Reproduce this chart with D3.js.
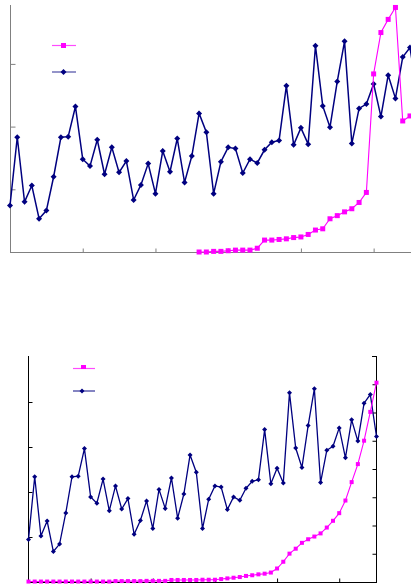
<!DOCTYPE html>
<html>
<head>
<meta charset="utf-8">
<script src="https://cdn.jsdelivr.net/npm/d3@7"></script>
<style>
  html, body { margin: 0; padding: 0; background: #fff; }
  svg { display: block; }
</style>
</head>
<body>
<svg id="chart" width="411" height="585"></svg>
<script>
// ---- data ----
const periods = [1,2,3,4,5,6,7,8,9,10,11,12,13,14,15,16,17,18,19,20,
  21,22,23,24,25,26,27,28,29,30,31,32,33,34,35,36,37,38,39,40,
  41,42,43,44,45,46,47,48,49,50,51,52,53,54,55,56,57];

// navy series (same in both panels)
const seriesNavy = [0.74,1.83,0.80,1.06,0.53,0.66,1.20,1.83,1.84,2.32,
  1.48,1.37,1.79,1.24,1.67,1.27,1.45,0.83,1.07,1.41,
  0.93,1.61,1.28,1.81,1.11,1.53,2.21,1.91,0.93,1.44,
  1.67,1.65,1.26,1.48,1.42,1.63,1.75,1.78,2.65,1.71,
  1.98,1.72,3.29,2.33,1.99,2.72,3.36,1.73,2.29,2.36,
  2.68,2.16,2.82,2.45,3.11,3.26,2.53];

// magenta series, upper panel (null = not drawn)
const seriesPinkTop = [null,null,null,null,null,null,null,null,null,null,
  null,null,null,null,null,null,null,null,null,null,
  null,null,null,null,null,null,0.00,0.00,0.01,0.01,
  0.02,0.03,0.03,0.03,0.06,0.19,0.19,0.20,0.21,0.23,
  0.24,0.28,0.35,0.37,0.53,0.58,0.64,0.69,0.79,0.95,
  2.84,3.50,3.71,3.90,2.09,2.17,null];

// magenta series, lower panel
const seriesPinkBottom = [0.01,0.01,0.01,0.01,0.01,0.01,0.01,0.01,0.01,0.01,
  0.01,0.01,0.01,0.01,0.02,0.02,0.02,0.02,0.02,0.025,
  0.025,0.025,0.025,0.045,0.045,0.045,0.045,0.045,0.05,0.05,
  0.05,0.065,0.08,0.095,0.11,0.135,0.15,0.17,0.185,0.21,
  0.30,0.45,0.63,0.74,0.87,0.95,1.01,1.08,1.21,1.36,
  1.53,1.81,2.22,2.62,3.14,3.78,4.43];

const topYTicks = [1, 2, 3];
const topXTicks = [10, 20, 30, 40, 50];
const bottomLeftTicks = [1, 2, 3, 4];
const bottomRightTicks = [0.5, 1, 1.5, 2, 2.5, 3, 3.5];
const bottomXTicks = [10, 20, 30, 40, 50];

const NAVY = "#000080", PINK = "#ff00ff";
const svg = d3.select("#chart");

const idx = periods.map((p, i) => i);

function diamond(r) { return `M0,${-r}L${r},0L0,${r}L${-r},0Z`; }

// ---------- upper panel ----------
const xT = d3.scaleLinear().domain([0, 55]).range([10, 410]);
const yT = d3.scaleLinear().domain([0, 4]).range([252, 1.2]);
const gT = svg.append("g");

// axes
const axT = gT.append("g").attr("transform", "translate(10.5,0)")
  .call(d3.axisLeft(yT).tickValues(topYTicks).tickSize(-5).tickFormat(""));
axT.select(".domain").remove();
axT.selectAll("line").attr("stroke", "#808080");
const axTx = gT.append("g").attr("transform", "translate(0,252.5)")
  .call(d3.axisBottom(xT).tickValues(topXTicks).tickSize(-4).tickFormat(""));
axTx.select(".domain").remove();
axTx.selectAll("line").attr("stroke", "#808080");
gT.append("line").attr("x1", 10.5).attr("x2", 10.5).attr("y1", 5).attr("y2", 253)
  .attr("stroke", "#808080");
gT.append("line").attr("x1", 10).attr("x2", 411).attr("y1", 252.5).attr("y2", 252.5)
  .attr("stroke", "#808080");

// navy line
const lineT = d3.line().defined(i => i <= 55 || true).x(i => xT(i)).y(i => yT(seriesNavy[i]));
gT.append("path").datum(idx).attr("d", lineT)
  .attr("fill", "none").attr("stroke", NAVY).attr("stroke-width", 1.5);
gT.selectAll(".dT").data(idx).enter().append("path")
  .attr("d", diamond(3)).attr("fill", NAVY)
  .attr("transform", i => `translate(${xT(i)},${yT(seriesNavy[i])})`);

// pink line
const pinkTIdx = idx.filter(i => seriesPinkTop[i] !== null);
gT.append("path").datum(pinkTIdx)
  .attr("d", d3.line().x(i => xT(i)).y(i => yT(seriesPinkTop[i])))
  .attr("fill", "none").attr("stroke", PINK).attr("stroke-width", 1.1);
gT.selectAll(".sT").data(pinkTIdx).enter().append("rect")
  .attr("x", i => xT(i) - 2.5).attr("y", i => yT(seriesPinkTop[i]) - 2.5)
  .attr("width", 5).attr("height", 5).attr("fill", PINK);

// legend
gT.append("line").attr("x1", 52).attr("x2", 76).attr("y1", 45.5).attr("y2", 45.5)
  .attr("stroke", PINK).attr("stroke-width", 1.2).attr("opacity", 0.7);
gT.append("rect").attr("x", 61).attr("y", 43).attr("width", 5).attr("height", 5).attr("fill", PINK);
gT.append("line").attr("x1", 52).attr("x2", 76).attr("y1", 72).attr("y2", 72)
  .attr("stroke", NAVY).attr("stroke-width", 1.2).attr("opacity", 0.7);
gT.append("path").attr("d", diamond(3)).attr("fill", NAVY).attr("transform", "translate(63.5,72)");

// ---------- lower panel ----------
const xB = d3.scaleLinear().domain([0, 56]).range([28.5, 376.5]);
const yBL = d3.scaleLinear().domain([0, 5]).range([582, 357]);
const yBR = d3.scaleLinear().domain([0, 4]).range([582, 356]);
const yBNavy = d3.scaleLinear().domain([0, 3.93]).range([582, 356]);
const gB = svg.append("g");

const axBL = gB.append("g").attr("transform", "translate(28.5,0)")
  .call(d3.axisLeft(yBL).tickValues(bottomLeftTicks).tickSize(-4).tickFormat(""));
axBL.select(".domain").remove();
axBL.selectAll("line").attr("stroke", "#000");
const axBR = gB.append("g").attr("transform", "translate(376.5,0)")
  .call(d3.axisRight(yBR).tickValues(bottomRightTicks).tickSize(-4).tickFormat(""));
axBR.select(".domain").remove();
axBR.selectAll("line").attr("stroke", "#000");
const axBX = gB.append("g").attr("transform", "translate(0,582.5)")
  .call(d3.axisBottom(xB).tickValues(bottomXTicks).tickSize(-4).tickFormat(""));
axBX.select(".domain").remove();
axBX.selectAll("line").attr("stroke", "#000");
gB.append("line").attr("x1", 28.5).attr("x2", 28.5).attr("y1", 356).attr("y2", 583).attr("stroke", "#000");
gB.append("line").attr("x1", 376.5).attr("x2", 376.5).attr("y1", 356).attr("y2", 583).attr("stroke", "#000");
gB.append("line").attr("x1", 372).attr("x2", 377).attr("y1", 356.5).attr("y2", 356.5).attr("stroke", "#000");
gB.append("line").attr("x1", 28).attr("x2", 377).attr("y1", 582.5).attr("y2", 582.5).attr("stroke", "#000");

// navy
gB.append("path").datum(idx)
  .attr("d", d3.line().x(i => xB(i)).y(i => yBNavy(seriesNavy[i])))
  .attr("fill", "none").attr("stroke", NAVY).attr("stroke-width", 1.3);
gB.selectAll(".dB").data(idx).enter().append("path")
  .attr("d", diamond(2.5)).attr("fill", NAVY)
  .attr("transform", i => `translate(${xB(i)},${yBNavy(seriesNavy[i])})`);

// pink
gB.append("path").datum(idx)
  .attr("d", d3.line().x(i => xB(i)).y(i => yBL(seriesPinkBottom[i])))
  .attr("fill", "none").attr("stroke", PINK).attr("stroke-width", 1.1);
gB.selectAll(".sB").data(idx).enter().append("rect")
  .attr("x", i => xB(i) - 2).attr("y", i => yBL(seriesPinkBottom[i]) - 2)
  .attr("width", 4).attr("height", 4).attr("fill", PINK);

// legend
gB.append("line").attr("x1", 73).attr("x2", 95).attr("y1", 368.5).attr("y2", 368.5)
  .attr("stroke", PINK).attr("stroke-width", 1.2).attr("opacity", 0.7);
gB.append("rect").attr("x", 81).attr("y", 365).attr("width", 5).attr("height", 4).attr("fill", PINK);
gB.append("line").attr("x1", 73).attr("x2", 95).attr("y1", 391).attr("y2", 391)
  .attr("stroke", NAVY).attr("stroke-width", 1.2).attr("opacity", 0.8);
gB.append("path").attr("d", diamond(2.5)).attr("fill", NAVY).attr("transform", "translate(82,391)");
</script>
</body>
</html>
